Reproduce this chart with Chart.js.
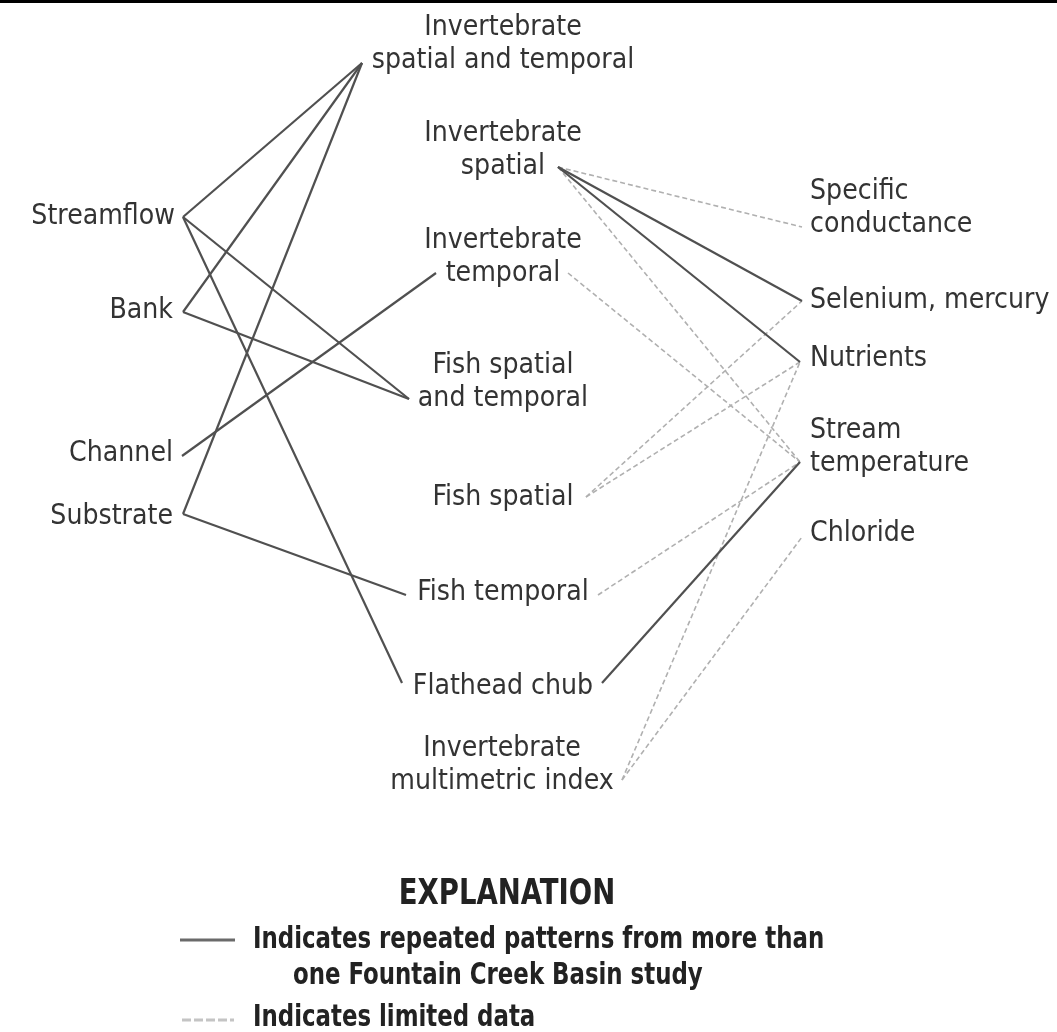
<!DOCTYPE html>
<html>
<head>
<meta charset="utf-8">
<script src="https://cdn.jsdelivr.net/npm/chart.js@4/dist/chart.umd.min.js"></script>
<style>
html,body{margin:0;padding:0;background:#fff;}
#wrap{width:1057px;height:1032px;}
</style>
</head>
<body>
<div id="wrap"><canvas id="c" width="1057" height="1032"></canvas></div>
<script>
// ---- Node anchor points (diagram units) ----
const nodeNames = ["Streamflow","Bank","Channel","Substrate",
  "InvSpTempL","InvSpatialR","InvTempL","InvTempR","FishSpTempL","FishSpatialR",
  "FishTempL","FishTempR","ChubL","ChubR","MultiR",
  "SpecCond","Selenium","Nutrients","StreamTemp","Chloride"];
const nodeX = [183,183,182,183, 362,558,436,568,409,586, 406,598,402,602,622, 802,802,800,800,802];
const nodeY = [217,312,456,514,  63,167,273,273,399,497, 595,595,683,683,780, 227,301,362,462,537];

// ---- Relationships ----
const solidFrom = ["Streamflow","Bank","Substrate","Streamflow","Streamflow","Bank","Channel","Substrate","InvSpatialR","InvSpatialR","ChubR"];
const solidTo   = ["InvSpTempL","InvSpTempL","InvSpTempL","FishSpTempL","ChubL","FishSpTempL","InvTempL","FishTempL","Selenium","Nutrients","StreamTemp"];
const dashFrom  = ["InvSpatialR","InvSpatialR","InvTempR","FishSpatialR","FishSpatialR","FishTempR","MultiR","MultiR"];
const dashTo    = ["SpecCond","StreamTemp","StreamTemp","Selenium","Nutrients","StreamTemp","Nutrients","Chloride"];

// ---- Labels ----
const labelText = [
  ["Invertebrate","spatial and temporal"],["Invertebrate","spatial"],["Invertebrate","temporal"],
  ["Fish spatial","and temporal"],["Fish spatial"],["Fish temporal"],["Flathead chub"],
  ["Invertebrate","multimetric index"],
  ["Streamflow"],["Bank"],["Channel"],["Substrate"],
  ["Specific","conductance"],["Selenium, mercury"],["Nutrients"],["Stream","temperature"],["Chloride"]
];
const labelX = [503,503,503, 503,503,503,503, 502, 175,173,173,173, 810,810,810,810,810];
const labelY = [27,133,240, 365,497,592,686, 748, 216,310,453,516, 191,300,358,430,533];
const labelAlign = ["center","center","center","center","center","center","center","center",
  "right","right","right","right","left","left","left","left","left"];

const legendTitle = "EXPLANATION";
const legendSolidText = ["Indicates repeated patterns from more than","one Fountain Creek Basin study"];
const legendDashText = ["Indicates limited data"];

const FONT = '"DejaVu Sans Condensed","Liberation Sans Narrow",sans-serif';
const SOLID_COLOR = '#505050';
const DASH_COLOR = '#b0b0b0';

function pt(name){ const i = nodeNames.indexOf(name); return {x: nodeX[i], y: nodeY[i]}; }

const datasets = [];
solidFrom.forEach((f,i)=>{
  datasets.push({data:[pt(f),pt(solidTo[i])], showLine:true, borderColor:SOLID_COLOR, borderWidth:2.2,
    pointRadius:0, fill:false, tension:0});
});
dashFrom.forEach((f,i)=>{
  datasets.push({data:[pt(f),pt(dashTo[i])], showLine:true, borderColor:DASH_COLOR, borderWidth:1.6,
    borderDash:[5,3], pointRadius:0, fill:false, tension:0});
});
// legend sample lines (drawn through the scales)
datasets.push({data:[{x:180,y:940},{x:235,y:940}], showLine:true, borderColor:'#6a6a6a', borderWidth:3, pointRadius:0});
datasets.push({data:[{x:182,y:1020},{x:234,y:1020}], showLine:true, borderColor:'#c4c4c4', borderWidth:3, borderDash:[9,3], pointRadius:0});

function squeezedText(ctx, s, x, y, sx, align){
  ctx.save();
  ctx.translate(x, y);
  ctx.scale(sx, 1);
  ctx.textAlign = align;
  ctx.fillText(s, 0, 0);
  ctx.restore();
}

const textPlugin = {
  id:'textPlugin',
  beforeDraw(chart){
    const ctx = chart.ctx;
    ctx.save();
    ctx.fillStyle = '#000';
    ctx.fillRect(0,0,chart.width,3);
    ctx.restore();
  },
  afterDatasetsDraw(chart){
    const ctx = chart.ctx, xs = chart.scales.x, ys = chart.scales.y;
    ctx.save();
    ctx.textBaseline = 'middle';
    ctx.fillStyle = '#333';
    ctx.font = '29px ' + FONT;
    labelText.forEach((lines,i)=>{
      lines.forEach((s,j)=>{
        squeezedText(ctx, s, xs.getPixelForValue(labelX[i]), ys.getPixelForValue(labelY[i] + j*33), 0.97, labelAlign[i]);
      });
    });
    ctx.fillStyle = '#222';
    ctx.font = 'bold 36px ' + FONT;
    squeezedText(ctx, legendTitle, xs.getPixelForValue(507), ys.getPixelForValue(895), 0.85, 'center');
    ctx.font = 'bold 31px ' + FONT;
    squeezedText(ctx, legendSolidText[0], xs.getPixelForValue(253), ys.getPixelForValue(940), 0.82, 'left');
    squeezedText(ctx, legendSolidText[1], xs.getPixelForValue(293), ys.getPixelForValue(976), 0.82, 'left');
    squeezedText(ctx, legendDashText[0], xs.getPixelForValue(253), ys.getPixelForValue(1018), 0.82, 'left');
    ctx.restore();
  }
};

new Chart(document.getElementById('c'), {
  type:'scatter',
  data:{datasets},
  options:{
    responsive:false, animation:false,
    layout:{padding:0},
    plugins:{legend:{display:false}, tooltip:{enabled:false}},
    scales:{
      x:{type:'linear', min:0, max:1057, display:false},
      y:{type:'linear', min:0, max:1032, reverse:true, display:false}
    }
  },
  plugins:[textPlugin]
});
</script>
</body>
</html>
